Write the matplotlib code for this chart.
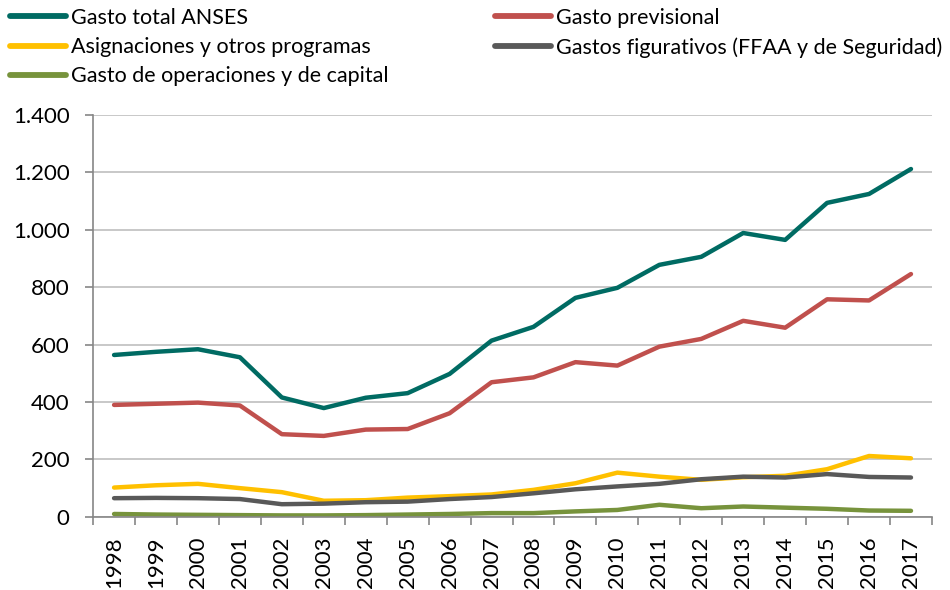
import matplotlib
matplotlib.use("Agg")
import matplotlib.pyplot as plt
import numpy as np

years = [str(y) for y in range(1998, 2018)]
gasto_total = [564, 575, 584, 556, 416, 379, 415, 431, 498, 614, 662, 763, 798, 878, 906, 989, 965, 1094, 1125, 1212]
gasto_prev = [390, 394, 398, 388, 288, 282, 304, 306, 361, 469, 486, 539, 527, 593, 620, 683, 659, 758, 754, 846]
asignaciones = [102, 110, 115, 100, 86, 56, 58, 67, 72, 78, 94, 117, 154, 140, 129, 138, 143, 166, 212, 204]
figurativos = [65, 66, 65, 62, 44, 46, 51, 53, 62, 69, 82, 96, 106, 115, 131, 140, 137, 149, 139, 137]
operaciones = [10, 8, 7, 6, 5, 5, 6, 8, 10, 13, 13, 19, 24, 42, 30, 36, 32, 28, 22, 21]
yticks = [0, 200, 400, 600, 800, 1000, 1200, 1400]
ylabels = ["0", "200", "400", "600", "800", "1.000", "1.200", "1.400"]

series = [
    ("Gasto total ANSES", gasto_total, "#006B63"),
    ("Gasto previsional", gasto_prev, "#C0504D"),
    ("Asignaciones y otros programas", asignaciones, "#FFC000"),
    ("Gastos figurativos (FFAA y de Seguridad)", figurativos, "#595959"),
    ("Gasto de operaciones y de capital", operaciones, "#77933C"),
]

plt.rcParams['font.family'] = ['Lato', 'DejaVu Sans']

fig = plt.figure(figsize=(9.5, 5.9), dpi=100)
ax = fig.add_axes([0.098, 0.124, 0.883, 0.681])
x = np.arange(len(years))
handles = []
for name, vals, col in series:
    h, = ax.plot(x, vals, color=col, lw=3.2, solid_capstyle='round', solid_joinstyle='round', label=name)
    handles.append(h)

ax.set_xlim(-0.5, len(years) - 0.5)
ax.set_ylim(0, 1400)
ax.set_yticks(yticks)
ax.set_yticklabels(ylabels, fontsize=16)
ax.set_xticks(x)
ax.set_xticklabels(years, rotation=90, fontsize=16)
ax.set_xticks(np.arange(-0.5, len(years)), minor=True)
ax.tick_params(axis='x', which='major', length=0, pad=14)
ax.tick_params(axis='x', which='minor', length=6, color='#868686', width=1.2)
ax.tick_params(axis='y', length=6, color='#868686', width=1.2, pad=11)
ax.grid(axis='y', color='#BFBFBF', lw=1.2)
ax.set_axisbelow(True)
for s in ['top', 'right']:
    ax.spines[s].set_visible(False)
for s in ['left', 'bottom']:
    ax.spines[s].set_color('#868686')
    ax.spines[s].set_linewidth(1.2)

cols = [([0, 2, 4], 10), ([1, 3], 495)]
for idx, xpix in cols:
    leg = fig.legend([handles[i] for i in idx], [series[i][0] for i in idx],
                     loc='upper left', bbox_to_anchor=(xpix / 950, 1 - 8 / 590),
                     frameon=False, fontsize=15.5, handlelength=2.6,
                     handletextpad=0.25, labelspacing=0.42, borderpad=0.0,
                     borderaxespad=0.0)
    for ln in leg.get_lines():
        ln.set_linewidth(4.2)
        ln.set_solid_capstyle('round')

fig.savefig("out.png", dpi=100)
